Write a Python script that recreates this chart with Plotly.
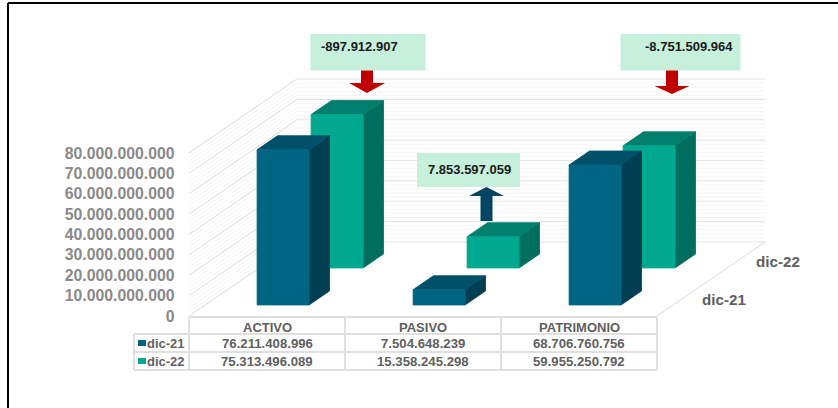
import plotly.graph_objects as go

W, H = 838, 408
categories = ["ACTIVO", "PASIVO", "PATRIMONIO"]
series_names = ["dic-21", "dic-22"]
dic_21 = [76211408996, 7504648239, 68706760756]
dic_22 = [75313496089, 15358245298, 59955250792]
variations = ["-897.912.907", "7.853.597.059", "-8.751.509.964"]
y_ticks = [0, 10e9, 20e9, 30e9, 40e9, 50e9, 60e9, 70e9, 80e9]

# pixel scale of the oblique chart
X0, CATW = 189.0, 156.0
Y0, PXV = 316.0, 163.0 / 80e9
DX, DY = 108.0, 74.0   # depth vector in pixels


def px_to_c(px):
    return (px - X0) / CATW


def py_to_v(py):
    return (Y0 - py) / PXV


def proj(c, v, t):
    """category position, value, depth 0..1 → axis coordinates"""
    return c + t * DX / CATW, v + t * DY / PXV


def poly(fig, pts, color, line=None, width=0.8):
    xs = [p[0] for p in pts] + [pts[0][0]]
    ys = [p[1] for p in pts] + [pts[0][1]]
    fig.add_trace(go.Scatter(x=xs, y=ys, mode="lines", fill="toself", fillcolor=color,
                             line=dict(color=line or color, width=width),
                             hoverinfo="skip", showlegend=False))


def line(fig, a, b, color, width=1.0):
    fig.add_trace(go.Scatter(x=[a[0], b[0]], y=[a[1], b[1]], mode="lines",
                             line=dict(color=color, width=width),
                             hoverinfo="skip", showlegend=False))


fig = go.Figure()

# walls and floor
GRID, MINOR = "#e4e4e4", "#f5f5f5"
minor_step = 2e9
n_minor = int(80e9 / minor_step)
for i in range(n_minor + 1):
    v = i * minor_step
    major = i % 5 == 0
    col, wid = (GRID, 1.2) if major else (MINOR, 1.0)
    line(fig, proj(0, v, 0), proj(0, v, 1), col, wid)
    line(fig, proj(0, v, 1), proj(3, v, 1), col, wid)
line(fig, proj(3, 0, 0), proj(3, 0, 1), GRID, 1.2)

# bars, back row first
BAR_W = 1 / 3
ROWS = [
    (dic_22, 0.649, "#00a88f", "#007e6e", "#006e5f"),
    (dic_21, 0.149, "#006583", "#00506a", "#003f52"),
]
BAR_DEPTH = 0.189
for values, t0, front, top, side in ROWS:
    for i, val in enumerate(values):
        c0, c1 = i + 0.5 - BAR_W / 2, i + 0.5 + BAR_W / 2
        t1 = t0 + BAR_DEPTH
        poly(fig, [proj(c1, 0, t0), proj(c1, 0, t1), proj(c1, val, t1), proj(c1, val, t0)], side)
        poly(fig, [proj(c0, val, t0), proj(c1, val, t0), proj(c1, val, t1), proj(c0, val, t1)], top)
        poly(fig, [proj(c0, 0, t0), proj(c1, 0, t0), proj(c1, val, t0), proj(c0, val, t0)], front)

shapes = []


def pline(x0, y0, x1, y1, color="#e0e0e0", width=2):
    shapes.append(dict(type="line", xref="paper", yref="paper",
                       x0=x0 / W, x1=x1 / W, y0=1 - y0 / H, y1=1 - y1 / H,
                       line=dict(color=color, width=width), layer="above"))


def prect(x0, y0, x1, y1, color):
    shapes.append(dict(type="rect", xref="paper", yref="paper",
                       x0=x0 / W, x1=x1 / W, y0=1 - y0 / H, y1=1 - y1 / H,
                       fillcolor=color, line=dict(width=0), layer="above"))


def arrow(xc, ytail, yneck, ytip, half_shaft, half_head, color):
    pts = [(xc - half_shaft, ytail), (xc + half_shaft, ytail), (xc + half_shaft, yneck),
           (xc + half_head, yneck), (xc, ytip), (xc - half_head, yneck), (xc - half_shaft, yneck)]
    path = "M" + " L".join(f"{x / W:.5f},{1 - y / H:.5f}" for x, y in pts) + " Z"
    shapes.append(dict(type="path", xref="paper", yref="paper", path=path,
                       fillcolor=color, line=dict(width=0), layer="above"))


# frame
pline(8, 3, W, 3, "#000000", 2)
pline(8, 3, 8, H, "#000000", 2)

# data table
for x in [189, 345, 501, 657]:
    pline(x, 317, x, 370)
pline(134, 334, 134, 370)
pline(189, 317, 657, 317)
pline(134, 334, 657, 334)
pline(134, 352, 657, 352)
pline(134, 370, 657, 370)
prect(138, 340, 146, 346, "#006583")
prect(138, 358, 146, 364, "#00a88f")

# callouts
prect(310.5, 34, 425.5, 70.5, "#c6efdc")
prect(620.5, 34, 740.5, 70.5, "#c6efdc")
prect(417, 153, 520, 187, "#c6efdc")
arrow(367, 70.5, 83, 93, 6, 18, "#c00000")
arrow(672, 70.5, 86, 94, 6, 17.5, "#c00000")
arrow(486.5, 221, 196, 187, 6, 17.5, "#024560")

ann = []


def text(xpx, ypx, s, size, color, anchor="center", bold=True):
    ann.append(dict(xref="paper", yref="paper", x=xpx / W, y=1 - ypx / H, text=f"<b>{s}</b>" if bold else s,
                    showarrow=False, xanchor=anchor, yanchor="middle",
                    font=dict(family="Liberation Sans", size=size, color=color)))


TBL = "#5f5f5f"
for i, cat in enumerate(categories):
    xc = X0 + CATW * (i + 0.5)
    text(xc, 327, cat, 13, TBL)
    text(xc, 343, f"{dic_21[i]:,}".replace(",", "."), 13.2, TBL)
    text(xc, 361, f"{dic_22[i]:,}".replace(",", "."), 13.2, TBL)
text(145, 343, series_names[0], 13, TBL, "left")
text(145, 361, series_names[1], 13, TBL, "left")
text(724, 299, series_names[0], 15.2, TBL)
text(777.5, 261, series_names[1], 15.2, TBL)
text(359.5, 46, variations[0], 13, "#1a1a1a")
text(469, 169, variations[1], 13, "#1a1a1a")
text(689, 46, variations[2], 13, "#1a1a1a")

fig.update_layout(
    width=W, height=H, margin=dict(l=0, r=0, t=0, b=0), autosize=False,
    paper_bgcolor="#ffffff", plot_bgcolor="#ffffff", showlegend=False,
    shapes=shapes, annotations=ann,
    xaxis=dict(range=[px_to_c(0), px_to_c(W)], visible=False, fixedrange=True),
    yaxis=dict(range=[py_to_v(H), py_to_v(0)], anchor="free", position=174.5 / W,
               tickvals=y_ticks,
               ticktext=[f"<b>{int(v):,}</b>".replace(",", ".") for v in y_ticks],
               tickfont=dict(family="Liberation Sans", size=15.8, color="#8a8a8a"),
               showgrid=False, zeroline=False, showline=False, ticks="", fixedrange=True),
)
fig.write_html("out.html", config=dict(displayModeBar=False),
               post_script="document.body.style.margin='0';document.documentElement.style.overflow='hidden';")
